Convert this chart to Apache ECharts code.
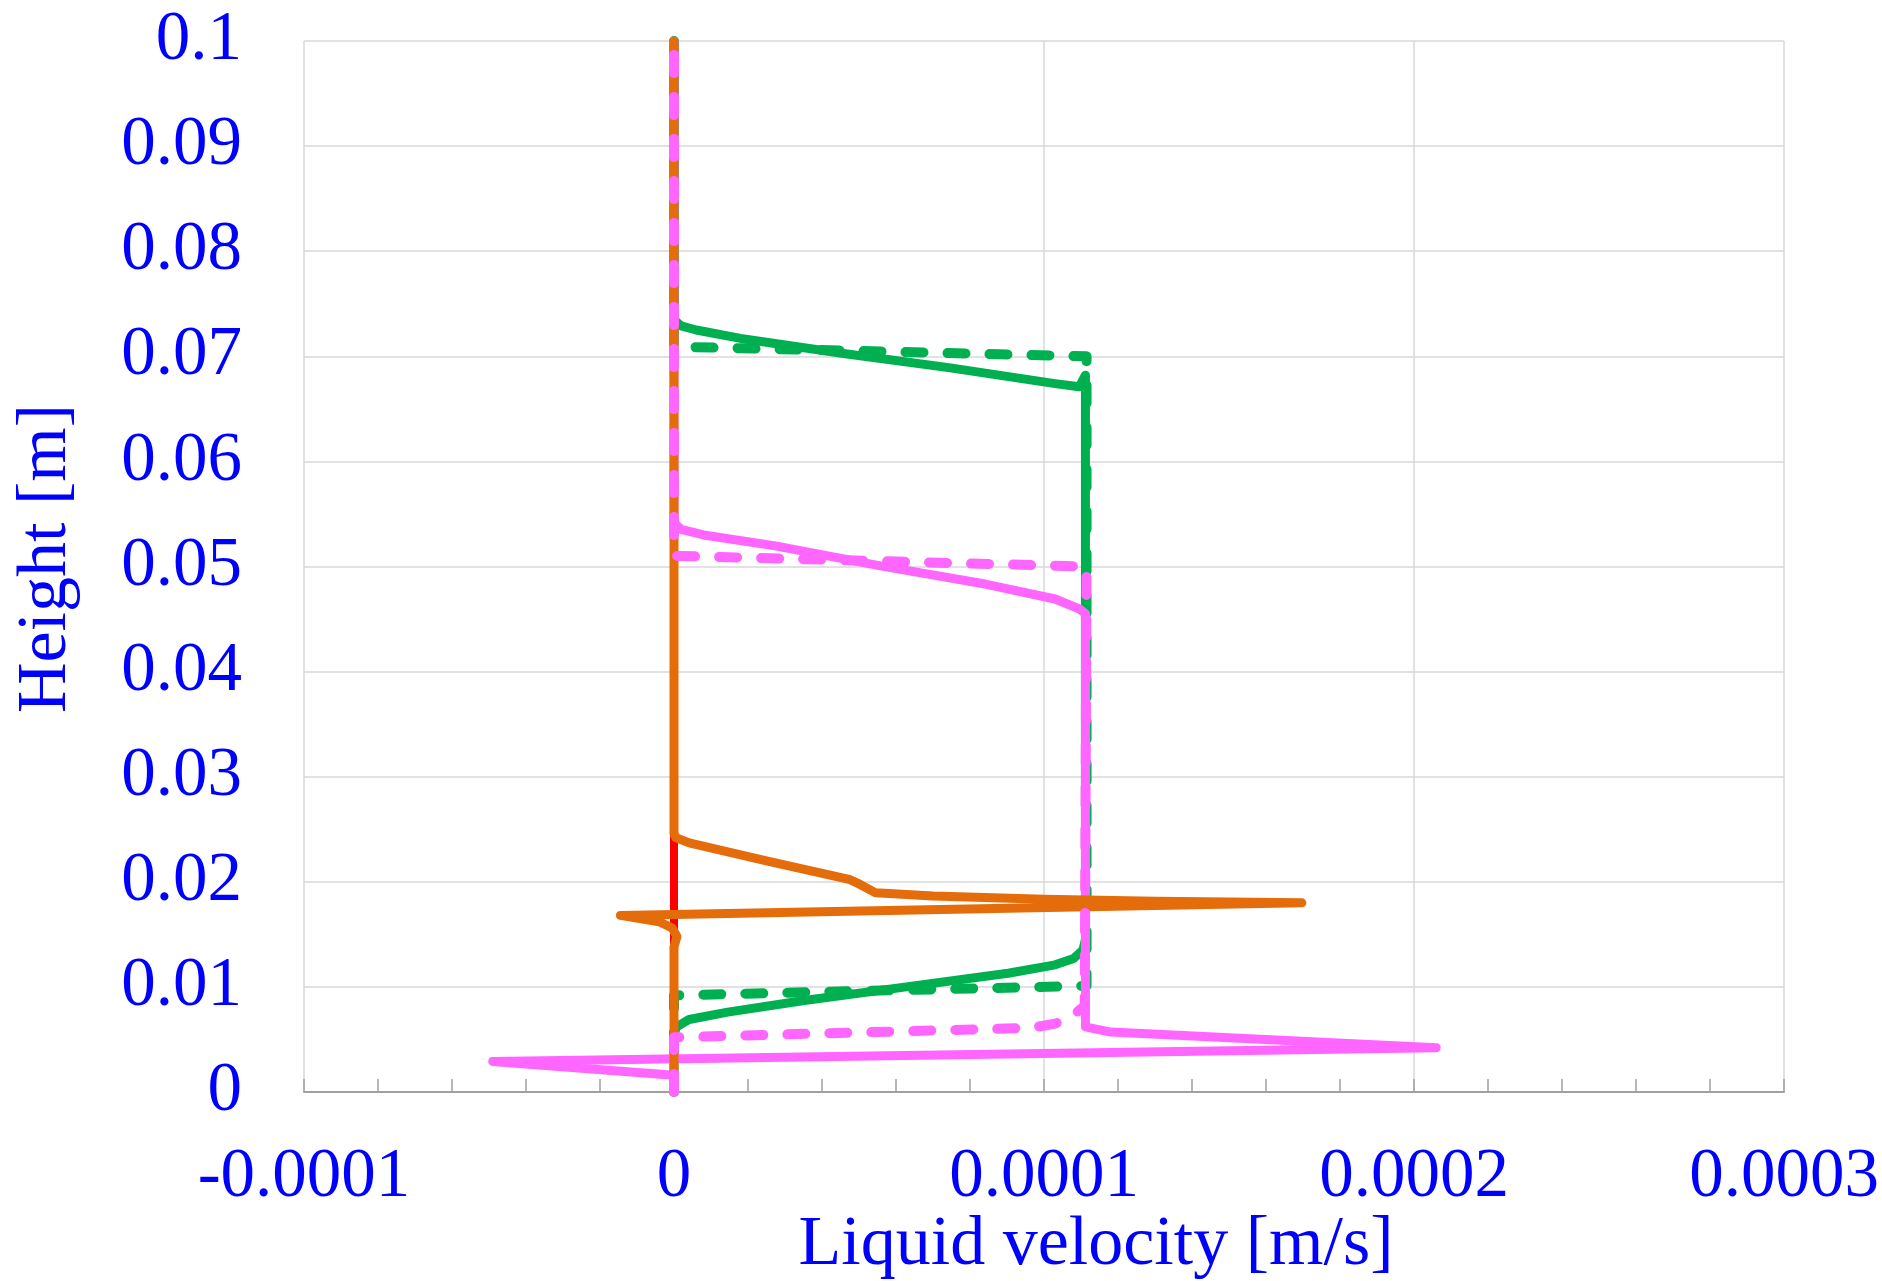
<!DOCTYPE html>
<html>
<head>
<meta charset="utf-8">
<script src="https://cdn.jsdelivr.net/npm/echarts@6/dist/echarts.min.js"></script>
<style>
html,body{margin:0;padding:0;background:#fff;}
#chart{width:1882px;height:1281px;}
</style>
</head>
<body>
<div id="chart"></div>
<script>
// ---- tick labels ----
const xTickLabels = ['-0.0001', '0', '0.0001', '0.0002', '0.0003'];
const yTickLabels = ['0', '0.01', '0.02', '0.03', '0.04', '0.05', '0.06', '0.07', '0.08', '0.09', '0.1'];

// ---- series values: [liquid velocity (m/s), height (m)] ----
const redSolid = [[0, 0], [0, 0.1]];

const orangeSolid = [
  [0, 0], [0, 0.0138], [0.0000008, 0.0148], [-0.0000005, 0.0156], [-0.000004, 0.0162],
  [-0.0000145, 0.0168], [0.0001697, 0.0180], [0.00013, 0.01815], [0.0001, 0.01835],
  [0.00007, 0.01865], [0.0000545, 0.01895], [0.0000503, 0.01975], [0.0000476, 0.0202],
  [0.000025, 0.0220], [0.0000041, 0.0237], [0.0000005, 0.0242], [0, 0.0246], [0, 0.1]
];

const greenSolid = [
  [0, 0], [0, 0.0055], [0.0000007, 0.0062], [0.0000041, 0.0069], [0.0000145, 0.0076],
  [0.0000352, 0.0087], [0.0000628, 0.0100], [0.0000903, 0.0113], [0.000103, 0.0121],
  [0.000108, 0.0127], [0.0001105, 0.0135], [0.0001112, 0.0145], [0.0001112, 0.0682],
  [0.0001095, 0.0671], [0.000103, 0.0674], [0.0000747, 0.0689], [0.0000463, 0.07025],
  [0.000018, 0.0717], [0.000006, 0.0725], [0.0000019, 0.0729], [0, 0.0735], [0, 0.1]
];

const greenDashed = [
  [0, 0], [0, 0.0092], [0.0001115, 0.0101], [0.0001115, 0.0700],
  [0.0000019, 0.0709], [0, 0.0709], [0, 0.1]
];

const pinkSolid = [
  [0, 0], [0, 0.0016], [-0.000049, 0.0029], [0.000206, 0.0042], [0.000118, 0.0057],
  [0.0001112, 0.0062], [0.0001112, 0.0455], [0.0001096, 0.04596], [0.000103, 0.04691],
  [0.0000841, 0.04833], [0.0000558, 0.05006], [0.0000274, 0.05196], [0.000008, 0.0530],
  [0.0000019, 0.05353], [0, 0.0542], [0, 0.1]
];

const pinkDashed = [
  [0, 0], [0, 0.0052], [0.0000965, 0.0061], [0.000103, 0.0065], [0.0001075, 0.0072],
  [0.000111, 0.0082], [0.0001115, 0.0500], [0.0000019, 0.0510], [0, 0.0510], [0, 0.1]
];

const FONT = "'Liberation Serif', 'Times New Roman', serif";
const BLUE = '#0000FF';

function lineSeries(name, data, color, width, dashed) {
  return {
    name: name,
    type: 'line',
    data: data,
    showSymbol: false,
    symbol: 'none',
    smooth: false,
    clip: true,
    lineStyle: {
      color: color,
      width: width,
      type: dashed ? [18, 24] : 'solid',
      cap: 'round',
      join: 'round'
    },
    emphasis: { disabled: true }
  };
}

const chart = echarts.init(document.getElementById('chart'), null, { renderer: 'canvas' });
chart.setOption({
  animation: false,
  backgroundColor: '#ffffff',
  grid: { left: 304, right: 98, top: 41, bottom: 189, containLabel: false, outerBoundsMode: 'none' },
  xAxis: {
    type: 'value',
    min: -0.0001,
    max: 0.0003,
    interval: 0.0001,
    name: 'Liquid velocity [m/s]',
    nameLocation: 'middle',
    nameGap: 119,
    nameMoveOverlap: false,
    nameTextStyle: { fontFamily: FONT, fontSize: 70, color: BLUE, padding: [0, 0, 0, 104] },
    axisLine: { show: true, lineStyle: { color: '#A0A0A0', width: 2 } },
    axisTick: { show: true, inside: true, length: 13, lineStyle: { color: '#A0A0A0', width: 1.5 } },
    minorTick: { show: true, splitNumber: 5, length: 13, lineStyle: { color: '#A0A0A0', width: 1.5 } },
    splitLine: { show: true, lineStyle: { color: '#D9D9D9', width: 1.5 } },
    axisLabel: {
      margin: 51,
      fontFamily: FONT,
      fontSize: 69,
      color: BLUE,
      formatter: function (v) { return xTickLabels[Math.round((v + 0.0001) / 0.0001)]; }
    }
  },
  yAxis: {
    type: 'value',
    min: 0,
    max: 0.1,
    interval: 0.01,
    name: 'Height [m]',
    nameLocation: 'middle',
    nameRotate: 90,
    nameGap: 222,
    nameMoveOverlap: false,
    nameTextStyle: { fontFamily: FONT, fontSize: 70, color: BLUE, padding: [0, 0, 0, 16] },
    axisLine: { show: true, lineStyle: { color: '#A0A0A0', width: 2 } },
    axisTick: { show: false },
    splitLine: { show: true, lineStyle: { color: '#D9D9D9', width: 1.5 } },
    axisLabel: {
      margin: 62,
      fontFamily: FONT,
      fontSize: 69,
      color: BLUE,
      formatter: function (v) { return yTickLabels[Math.round(v / 0.01)]; }
    }
  },
  series: [
    lineSeries('red', redSolid, '#FF0000', 8, false),
    lineSeries('green', greenSolid, '#00B050', 9, false),
    lineSeries('green dashed', greenDashed, '#00B050', 10, true),
    lineSeries('pink', pinkSolid, '#FF66FF', 9, false),
    lineSeries('orange', orangeSolid, '#E46C0A', 9, false),
    lineSeries('pink dashed', pinkDashed, '#FF66FF', 10, true)
  ]
});
</script>
</body>
</html>
